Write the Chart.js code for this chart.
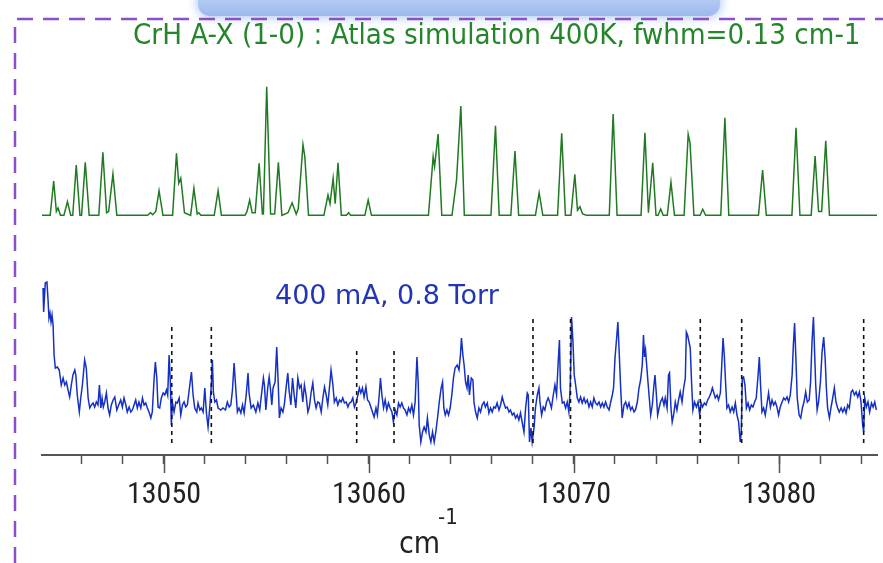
<!DOCTYPE html>
<html>
<head>
<meta charset="utf-8">
<script src="https://cdn.jsdelivr.net/npm/chart.js@4.4.1/dist/chart.umd.min.js"></script>
<style>
  html, body { margin: 0; padding: 0; background: #fff; }
  #wrap { width: 883px; height: 563px; }
</style>
</head>
<body>
<div id="wrap"><canvas id="spectrum" width="883" height="563"></canvas></div>
<script>
// Atlas simulation, CrH A-X (1-0), wavenumber (cm-1) / relative intensity
const simX = [
  13044.05, 13044.45, 13044.62, 13044.75, 13044.83, 13044.95, 13045.12, 13045.29, 13045.45, 13045.55,
  13045.72, 13045.90, 13045.98, 13046.16, 13046.35, 13046.82, 13047.02, 13047.20, 13047.30, 13047.51,
  13047.70, 13049.20, 13049.34, 13049.45, 13049.60, 13049.76, 13049.95, 13050.42, 13050.61, 13050.72,
  13050.82, 13051.00, 13051.30, 13051.46, 13051.62, 13051.70, 13051.80, 13052.45, 13052.64, 13052.80,
  13053.95, 13054.05, 13054.18, 13054.30, 13054.45, 13054.64, 13054.80, 13054.85, 13055.01, 13055.20,
  13055.40, 13055.58, 13055.75, 13056.05, 13056.25, 13056.45, 13056.55, 13056.78, 13056.87, 13057.05,
  13057.80, 13058.00, 13058.10, 13058.25, 13058.35, 13058.49, 13058.65, 13058.90, 13059.01, 13059.10,
  13059.80, 13059.96, 13060.12, 13062.90, 13063.13, 13063.20, 13063.37, 13063.55, 13064.05, 13064.27,
  13064.48, 13064.65, 13065.95, 13066.17, 13066.35, 13066.92, 13067.12, 13067.30, 13068.12, 13068.30,
  13068.48, 13069.20, 13069.40, 13069.58, 13069.85, 13070.04, 13070.17, 13070.29, 13070.42, 13070.60,
  13071.72, 13071.91, 13072.10, 13073.27, 13073.46, 13073.63, 13073.84, 13074.00, 13074.10, 13074.23,
  13074.35, 13074.55, 13074.73, 13074.90, 13075.37, 13075.57, 13075.66, 13075.85, 13076.15, 13076.28,
  13076.42, 13077.16, 13077.36, 13077.55, 13079.00, 13079.20, 13079.38, 13080.63, 13080.83, 13081.02,
  13081.57, 13081.76, 13081.93, 13082.08, 13082.28, 13082.46, 13084.78
];
const simY = [
  0, 0, 26.7, 3, 5.7, 0, 0, 10.6, 0, 0,
  39.1, 0, 0, 41.2, 0, 0, 49.0, 2, 3, 32.1,
  0, 0, 2.0, 0.5, 3, 19.1, 0, 0, 48.2, 25,
  29.0, 2, 0, 21.0, 1, 2, 0, 0, 19.1, 0,
  0, 3, 11.9, 2, 2, 40.4, 1, 1, 100, 1,
  1, 41.2, 0, 2, 9.8, 1, 5, 54.9, 45.6, 0,
  0, 15.8, 9, 28.8, 9, 40.9, 0, 0, 2.0, 0,
  0, 11.9, 0, 0, 45.6, 38, 63.2, 0, 0, 27.4,
  85.0, 0, 0, 69.7, 0, 0, 50.0, 0, 0, 17.6,
  0, 0, 63.8, 0, 0, 31.9, 4, 6.7, 1, 0,
  0, 78.8, 0, 0, 64.2, 2, 40.9, 0, 0, 4.9,
  0, 0, 25.7, 0, 0, 63.0, 56.2, 0, 0, 4.7,
  0, 0, 75.9, 0, 0, 35.2, 0, 0, 68.1, 0,
  0, 46.1, 3, 3, 58.0, 0, 0
];

// measured spectrum, 400 mA, 0.8 Torr (wavenumber / signal, arbitrary units)
const expX = [
  13044.10, 13044.13, 13044.21, 13044.29, 13044.34, 13044.39, 13044.44, 13044.49, 13044.54, 13044.59,
  13044.64, 13044.70, 13044.80, 13044.89, 13044.99, 13045.08, 13045.16, 13045.24, 13045.32, 13045.40,
  13045.48, 13045.56, 13045.65, 13045.70, 13045.77, 13045.87, 13045.94, 13046.02, 13046.13, 13046.21,
  13046.30, 13046.38, 13046.46, 13046.54, 13046.62, 13046.70, 13046.78, 13046.85, 13046.92, 13046.98,
  13047.04, 13047.11, 13047.19, 13047.27, 13047.35, 13047.43, 13047.52, 13047.60, 13047.70, 13047.79,
  13047.89, 13047.97, 13048.05, 13048.14, 13048.21, 13048.30, 13048.38, 13048.46, 13048.54, 13048.62,
  13048.70, 13048.78, 13048.87, 13048.95, 13049.03, 13049.11, 13049.19, 13049.27, 13049.36, 13049.43,
  13049.52, 13049.58, 13049.65, 13049.71, 13049.79, 13049.87, 13049.96, 13050.04, 13050.12, 13050.18,
  13050.25, 13050.31, 13050.36, 13050.41, 13050.49, 13050.58, 13050.65, 13050.74, 13050.82, 13050.90,
  13050.98, 13051.06, 13051.14, 13051.26, 13051.34, 13051.42, 13051.50, 13051.60, 13051.66, 13051.75,
  13051.82, 13051.91, 13051.99, 13052.07, 13052.15, 13052.23, 13052.31, 13052.36, 13052.41, 13052.48,
  13052.56, 13052.64, 13052.77, 13052.88, 13053.00, 13053.09, 13053.18, 13053.26, 13053.34, 13053.42,
  13053.50, 13053.58, 13053.66, 13053.75, 13053.83, 13053.91, 13054.01, 13054.10, 13054.15, 13054.25,
  13054.36, 13054.48, 13054.58, 13054.67, 13054.77, 13054.85, 13054.90, 13054.97, 13055.06, 13055.13,
  13055.19, 13055.26, 13055.32, 13055.42, 13055.50, 13055.57, 13055.63, 13055.71, 13055.80, 13055.87,
  13055.97, 13056.04, 13056.10, 13056.19, 13056.27, 13056.35, 13056.43, 13056.53, 13056.61, 13056.69,
  13056.77, 13056.85, 13056.93, 13057.02, 13057.09, 13057.18, 13057.26, 13057.34, 13057.42, 13057.50,
  13057.58, 13057.67, 13057.75, 13057.83, 13057.91, 13057.99, 13058.07, 13058.15, 13058.24, 13058.31,
  13058.40, 13058.48, 13058.56, 13058.64, 13058.72, 13058.80, 13058.89, 13058.97, 13059.05, 13059.13,
  13059.21, 13059.29, 13059.37, 13059.46, 13059.53, 13059.60, 13059.68, 13059.76, 13059.85, 13059.93,
  13060.01, 13060.09, 13060.17, 13060.25, 13060.34, 13060.41, 13060.50, 13060.56, 13060.63, 13060.71,
  13060.79, 13060.87, 13060.95, 13061.03, 13061.12, 13061.19, 13061.28, 13061.36, 13061.44, 13061.52,
  13061.60, 13061.68, 13061.76, 13061.85, 13061.93, 13062.01, 13062.09, 13062.17, 13062.25, 13062.34,
  13062.40, 13062.45, 13062.53, 13062.61, 13062.69, 13062.78, 13062.85, 13062.94, 13063.02, 13063.10,
  13063.18, 13063.26, 13063.36, 13063.44, 13063.52, 13063.59, 13063.65, 13063.72, 13063.80, 13063.88,
  13063.96, 13064.04, 13064.12, 13064.20, 13064.30, 13064.39, 13064.46, 13064.51, 13064.58, 13064.64,
  13064.71, 13064.78, 13064.84, 13064.90, 13064.99, 13065.07, 13065.12, 13065.20, 13065.28, 13065.36,
  13065.44, 13065.52, 13065.61, 13065.68, 13065.77, 13065.85, 13065.93, 13066.01, 13066.09, 13066.17,
  13066.25, 13066.34, 13066.42, 13066.50, 13066.58, 13066.66, 13066.74, 13066.83, 13066.90, 13066.99,
  13067.07, 13067.15, 13067.23, 13067.31, 13067.39, 13067.47, 13067.56, 13067.64, 13067.72, 13067.77,
  13067.83, 13067.90, 13067.96, 13068.05, 13068.12, 13068.21, 13068.29, 13068.34, 13068.42, 13068.50,
  13068.58, 13068.66, 13068.74, 13068.83, 13068.90, 13068.99, 13069.07, 13069.15, 13069.23, 13069.29,
  13069.34, 13069.43, 13069.51, 13069.59, 13069.67, 13069.75, 13069.82, 13069.88, 13069.95, 13070.01,
  13070.08, 13070.16, 13070.24, 13070.32, 13070.40, 13070.49, 13070.56, 13070.65, 13070.73, 13070.81,
  13070.89, 13070.97, 13071.05, 13071.13, 13071.22, 13071.30, 13071.38, 13071.46, 13071.54, 13071.62,
  13071.71, 13071.78, 13071.87, 13071.93, 13072.00, 13072.08, 13072.14, 13072.21, 13072.27, 13072.35,
  13072.44, 13072.52, 13072.60, 13072.68, 13072.76, 13072.84, 13072.93, 13073.00, 13073.09, 13073.17,
  13073.25, 13073.33, 13073.39, 13073.44, 13073.49, 13073.57, 13073.66, 13073.74, 13073.82, 13073.90,
  13073.95, 13074.01, 13074.08, 13074.15, 13074.22, 13074.31, 13074.39, 13074.45, 13074.54, 13074.61,
  13074.66, 13074.73, 13074.79, 13074.86, 13074.94, 13075.02, 13075.10, 13075.18, 13075.27, 13075.35,
  13075.43, 13075.48, 13075.54, 13075.61, 13075.67, 13075.74, 13075.80, 13075.88, 13075.97, 13076.05,
  13076.13, 13076.20, 13076.27, 13076.36, 13076.44, 13076.52, 13076.60, 13076.68, 13076.75, 13076.81,
  13076.89, 13076.98, 13077.05, 13077.14, 13077.20, 13077.27, 13077.33, 13077.40, 13077.46, 13077.54,
  13077.62, 13077.71, 13077.79, 13077.87, 13077.95, 13078.03, 13078.11, 13078.16, 13078.21, 13078.27,
  13078.34, 13078.41, 13078.49, 13078.57, 13078.65, 13078.73, 13078.81, 13078.89, 13078.98, 13079.04,
  13079.10, 13079.17, 13079.25, 13079.33, 13079.42, 13079.49, 13079.58, 13079.66, 13079.74, 13079.82,
  13079.90, 13079.98, 13080.06, 13080.15, 13080.23, 13080.31, 13080.39, 13080.47, 13080.55, 13080.64,
  13080.70, 13080.76, 13080.83, 13080.89, 13080.98, 13081.06, 13081.14, 13081.22, 13081.30, 13081.38,
  13081.47, 13081.54, 13081.61, 13081.68, 13081.72, 13081.79, 13081.86, 13081.93, 13082.02, 13082.10,
  13082.18, 13082.25, 13082.31, 13082.37, 13082.46, 13082.54, 13082.62, 13082.70, 13082.78, 13082.86,
  13082.94, 13083.03, 13083.11, 13083.19, 13083.27, 13083.35, 13083.43, 13083.52, 13083.59, 13083.68,
  13083.76, 13083.84, 13083.92, 13084.00, 13084.08, 13084.13, 13084.18, 13084.26, 13084.34, 13084.42,
  13084.51, 13084.59, 13084.67, 13084.75
];
const expY = [
  117, 93, 122, 123, 107, 87, 92, 83, 90, 80,
  50, 37, 38, 35, 20, 27, 20, 23, 15, 8,
  20, 30, 35, 30, 10, -7, 7, 20, 45, 37,
  7, -3, 0, 2, -2, 3, 0, 20, -3, 7,
  -2, 3, 12, -3, -10, 0, 5, 8, -5, 0,
  5, -2, 7, 0, -7, -2, -7, -5, 0, 5,
  -3, 3, -3, 7, 0, 2, -3, -7, -13, -7,
  27, 43, 27, -2, -3, 7, 12, 10, 15, 10,
  50, 23, -20, 3, -7, 3, 2, 7, -10, 0,
  3, -2, 0, 20, 33, 10, -3, -7, 2, -5,
  -3, -7, 17, -8, -22, -3, 20, 45, 13, 3,
  5, -3, -5, -3, -5, 3, -2, 0, 15, 42,
  17, -7, -3, -8, 0, -8, 10, 32, 12, -3,
  0, -7, 2, -5, 13, 27, 20, -5, 17, 28,
  17, 0, 17, 23, 58, 23, -13, -3, -7, 0,
  20, 32, 15, 0, 27, 10, -3, 27, 17, 20,
  3, 20, 10, -7, -2, 13, 22, 5, -3, 3,
  2, -7, 7, 18, 10, 0, 17, 35, 20, 3,
  7, 0, 5, 3, 7, 2, 3, -2, 2, 3,
  7, -2, 2, 10, 17, 12, 17, 8, 18, 5,
  3, -2, -7, -12, -3, -10, 10, 27, 10, -3,
  5, -5, 2, -3, -7, -17, -5, -10, 2, -2,
  2, -3, -5, -10, -3, -7, 0, -10, 3, 48,
  23, -20, -37, -27, -22, -27, -13, -30, -37, -27,
  -37, -27, -10, 5, 17, 23, -3, -10, -5, -10,
  -3, 10, 27, 37, 40, 35, 50, 67, 50, 40,
  23, 17, 30, 10, 27, 25, 3, -7, -13, -3,
  -7, 0, 3, -2, 2, -8, -3, -7, -2, -3,
  2, -5, 0, 8, 2, -3, -2, -7, -5, -10,
  -8, -13, -10, -15, -8, -17, -27, -3, 12, 10,
  -37, -23, -37, -23, -3, 10, 17, 3, -10, -2,
  -5, 3, 7, 2, -3, 10, 20, 10, 43, 65,
  17, 2, 3, -3, 3, -7, 20, 88, 63, 30,
  20, 7, 3, 8, 2, 7, 2, 5, -2, 3,
  -2, 7, 2, 0, 3, -2, 2, -2, 3, -2,
  -5, 2, 10, 17, 47, 67, 83, 50, 20, -13,
  0, 3, -3, 2, -5, -2, -7, -5, 3, 17,
  25, 40, 70, 48, 55, 33, 10, -10, 0, 20,
  30, 13, -10, -3, 3, 7, 0, 7, -3, 30,
  32, -3, -17, -10, 3, -5, 5, 13, 3, 17,
  27, 73, 70, 63, 57, 20, -5, 3, -2, 3,
  -10, 2, -2, 2, 0, 5, 8, 12, 17, 13,
  7, 10, 5, 12, 37, 67, 50, 20, -3, 0,
  -7, -2, -7, 2, -10, -17, -37, -27, 27, 28,
  20, -3, 2, -5, 0, -2, 3, 7, 30, 48,
  20, -7, -3, -10, 2, 12, -2, 5, 0, 3,
  -2, -10, -2, 3, 7, 5, 8, 3, 10, 30,
  60, 82, 43, 7, -10, -13, -3, 3, 13, 3,
  5, 23, 63, 88, 63, 20, -5, 3, 23, 53,
  68, 47, 17, -3, -13, -2, 7, 17, 3, -3,
  -7, -3, -7, -3, -8, 0, -3, 13, 15, 10,
  13, 8, 13, 3, -20, -27, 7, -2, 3, -7,
  2, -2, 3, -5
];

// dashed line markers (position, top of marker)
const markX = [13050.38, 13052.31, 13059.40, 13061.22, 13068.00, 13069.83, 13076.16, 13078.18, 13084.13];
const markTop = [78, 78, 57, 57, 88, 88, 88, 88, 88];
const markBottom = -38;

const xMin = 13044.05;
const xMax = 13084.78;
const majorTicks = [13050, 13060, 13070, 13080];

const titleText = 'CrH A-X (1-0) : Atlas simulation 400K, fwhm=0.13 cm-1';
const expLabel = '400 mA, 0.8 Torr';

const condensed = '"DejaVu Sans Condensed", "Liberation Sans", Arial, sans-serif';
const tickFont = '"Roboto Condensed", "DejaVu Sans Condensed", sans-serif';

const datasets = [];
markX.forEach((x, i) => {
  datasets.push({
    data: [{x: x, y: markBottom}, {x: x, y: markTop[i]}],
    yAxisID: 'yExp',
    borderColor: '#111',
    borderWidth: 1.6,
    borderDash: [4, 4],
    pointRadius: 0
  });
});
datasets.push({
  data: expX.map((x, i) => ({x: x, y: expY[i]})),
  yAxisID: 'yExp',
  borderColor: '#1530c4',
  borderWidth: 1.5,
  pointRadius: 0,
  tension: 0
});
datasets.push({
  data: simX.map((x, i) => ({x: x, y: simY[i]})),
  yAxisID: 'ySim',
  borderColor: '#1f7a22',
  borderWidth: 1.5,
  pointRadius: 0,
  tension: 0
});

const decor = {
  id: 'decor',
  beforeDraw(chart) {
    const ctx = chart.ctx;
    ctx.save();
    ctx.fillStyle = '#fff';
    ctx.fillRect(0, 0, chart.width, chart.height);
    // blue glow band at the top
    ctx.shadowColor = 'rgba(140,175,240,0.9)';
    ctx.shadowBlur = 12;
    const g = ctx.createLinearGradient(0, 0, 0, 18);
    g.addColorStop(0, '#b3caf2');
    g.addColorStop(1, '#9ab6ec');
    ctx.fillStyle = g;
    ctx.beginPath();
    ctx.roundRect(198, -12, 522, 28, 12);
    ctx.fill();
    ctx.restore();
  },
  afterDraw(chart) {
    const ctx = chart.ctx;
    const xs = chart.scales.x;
    const area = chart.chartArea;
    ctx.save();
    // longer ticks for the labelled values
    ctx.strokeStyle = '#555';
    ctx.lineWidth = 1.5;
    majorTicks.forEach(v => {
      const px = Math.round(xs.getPixelForValue(v)) + 0.5;
      ctx.beginPath();
      ctx.moveTo(px, area.bottom);
      ctx.lineTo(px, area.bottom + 18);
      ctx.stroke();
    });
    // purple dashed frame
    ctx.strokeStyle = '#8c4fc9';
    ctx.lineWidth = 2.5;
    ctx.setLineDash([16, 10]);
    ctx.beginPath();
    ctx.moveTo(15, 563);
    ctx.lineTo(15, 19);
    ctx.lineTo(883, 19);
    ctx.stroke();
    ctx.setLineDash([]);
    // texts
    ctx.textBaseline = 'alphabetic';
    ctx.fillStyle = '#24852a';
    ctx.font = '29.2px ' + condensed;
    ctx.fillText(titleText, 133, 44);
    ctx.fillStyle = '#2235b4';
    ctx.font = '27px "DejaVu Sans", Verdana, sans-serif';
    ctx.fillText(expLabel, 275, 304);
    ctx.fillStyle = '#222';
    ctx.font = '30px ' + condensed;
    ctx.fillText('cm', 399, 553);
    ctx.font = '22px ' + condensed;
    ctx.fillText('-1', 438, 524);
    ctx.restore();
  }
};

new Chart(document.getElementById('spectrum'), {
  type: 'line',
  data: { datasets: datasets },
  plugins: [decor],
  options: {
    responsive: false,
    animation: false,
    layout: { padding: { left: 42, right: 6, top: 20, bottom: 37 } },
    plugins: {
      legend: { display: false },
      tooltip: { enabled: false }
    },
    scales: {
      x: {
        type: 'linear',
        min: xMin,
        max: xMax,
        grid: {
          drawOnChartArea: false,
          drawTicks: true,
          tickLength: 9,
          tickColor: '#555',
          tickWidth: 1.5
        },
        border: { display: true, color: '#555', width: 2 },
        ticks: {
          stepSize: 2,
          includeBounds: false,
          autoSkip: false,
          maxRotation: 0,
          padding: 13,
          color: '#222',
          font: { family: tickFont, size: 30 },
          callback: v => (majorTicks.includes(v) ? String(v) : '')
        }
      },
      ySim: {
        display: false,
        min: -186.4,
        max: 151.9
      },
      yExp: {
        display: false,
        min: -50,
        max: 385
      }
    }
  }
});
</script>
</body>
</html>
